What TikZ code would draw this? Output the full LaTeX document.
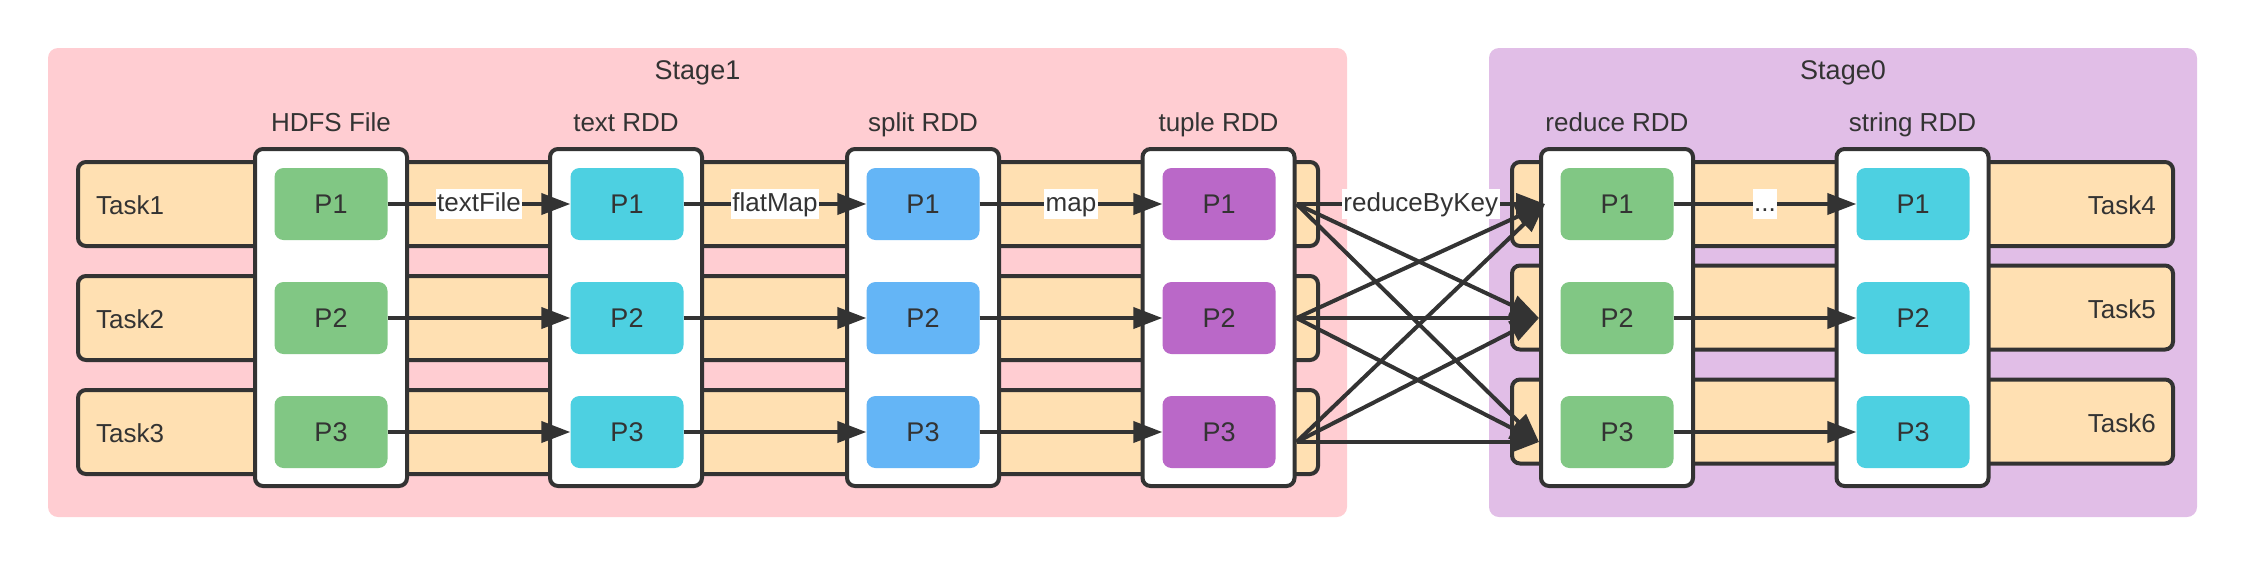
\documentclass[tikz,border=0pt]{standalone}
\usepackage{fontspec}
\setmainfont{Liberation Sans}
\usetikzlibrary{arrows.meta,calc}
\definecolor{stageA}{HTML}{FFCDD2}
\definecolor{stageB}{HTML}{E1BEE7}
\definecolor{taskc}{HTML}{FFE0B2}
\definecolor{pgreen}{HTML}{81C784}
\definecolor{pcyan}{HTML}{4DD0E1}
\definecolor{pblue}{HTML}{64B5F6}
\definecolor{ppurple}{HTML}{BA68C8}
\definecolor{ink}{HTML}{333333}
\begin{document}
\begin{tikzpicture}[x=1pt,y=-1pt,
  stagebox/.style={fill=#1, draw=none, rounded corners=10pt, inner sep=0pt},
  taskrow/.style={fill=taskc, draw=ink, line width=4pt, rounded corners=8pt, inner sep=0pt, minimum height=84pt},
  colbox/.style={fill=white, draw=ink, line width=4pt, rounded corners=8pt, inner sep=0pt, minimum width=152pt, minimum height=337pt},
  part/.style={fill=#1, draw=none, rounded corners=9pt, minimum width=113pt, minimum height=72pt, inner sep=0pt, font=\fontsize{27}{30}\selectfont, text=ink},
  lbl/.style={font=\fontsize{26}{30}\selectfont, text=ink, inner sep=0pt},
  title/.style={font=\fontsize{27}{30}\selectfont, text=ink, inner sep=0pt},
  flow/.style={draw=ink, line width=4pt, -{Triangle[length=29pt,width=21pt]}},
  elabel/.style={fill=white, font=\fontsize{26}{30}\selectfont, text=ink, inner sep=1.5pt, text height=21pt, text depth=6pt}
]
\useasboundingbox (0,0) rectangle (2246,566);
% stages
\node[stagebox=stageA, minimum width=1299pt, minimum height=469pt] (stage1) at (697.5,282.5) {};
\node[stagebox=stageB, minimum width=708pt, minimum height=469pt] (stage0) at (1843,282.5) {};
\node[title, anchor=base] (st1) at (697.5,79.5) {Stage1};
\node[title, anchor=base] (st0) at (1843,79.5) {Stage0};
% task rows
\node[taskrow, minimum width=1240pt] (row1) at (698,204) {};
\node[taskrow, minimum width=1240pt] (row2) at (698,318) {};
\node[taskrow, minimum width=1240pt] (row3) at (698,432) {};
\node[taskrow, minimum width=661pt] (row4) at (1842.5,204) {};
\node[taskrow, minimum width=661pt] (row5) at (1842.5,307.5) {};
\node[taskrow, minimum width=661pt] (row6) at (1842.5,421.5) {};
\node[lbl, anchor=west] (tk1) at (96,205) {Task1};
\node[lbl, anchor=west] (tk2) at (96,319) {Task2};
\node[lbl, anchor=west] (tk3) at (96,433) {Task3};
\node[lbl, anchor=east] (tk4) at (2156,205) {Task4};
\node[lbl, anchor=east] (tk5) at (2156,309) {Task5};
\node[lbl, anchor=east] (tk6) at (2156,423) {Task6};
% columns
\node[colbox] (hdfs) at (331,317.5) {};
\node[colbox] (text) at (626,317.5) {};
\node[colbox] (split) at (923,317.5) {};
\node[colbox] (tuple) at (1218.5,317.5) {};
\node[colbox] (reduce) at (1617,317.5) {};
\node[colbox] (string) at (1912.5,317.5) {};
\node[lbl, anchor=base] (lh) at (331,131) {HDFS File};
\node[lbl, anchor=base] (lx) at (626,131) {text RDD};
\node[lbl, anchor=base] (ls) at (923,131) {split RDD};
\node[lbl, anchor=base] (lt) at (1218.5,131) {tuple RDD};
\node[lbl, anchor=base] (lr) at (1617,131) {reduce RDD};
\node[lbl, anchor=base] (lg) at (1912.5,131) {string RDD};
% partitions
\foreach \i/\y in {1/204,2/318,3/432}{
  \node[part=pgreen] (hp\i) at (331,\y) {P\i};
  \node[part=pcyan] (xp\i) at (627,\y) {P\i};
  \node[part=pblue] (sp\i) at (923,\y) {P\i};
  \node[part=ppurple] (tp\i) at (1219,\y) {P\i};
  \node[part=pgreen] (rp\i) at (1617,\y) {P\i};
  \node[part=pcyan] (gp\i) at (1913,\y) {P\i};
}
% narrow dependencies
\draw[flow] (hp1) -- node[elabel] {textFile} (xp1);
\draw[flow] (hp2) -- (xp2);
\draw[flow] (hp3) -- (xp3);
\draw[flow] (xp1) -- node[elabel] {flatMap} (sp1);
\draw[flow] (xp2) -- (sp2);
\draw[flow] (xp3) -- (sp3);
\draw[flow] (sp1) -- node[elabel] {map} (tp1);
\draw[flow] (sp2) -- (tp2);
\draw[flow] (sp3) -- (tp3);
\draw[flow] (rp1) -- node[elabel] {...} (gp1);
\draw[flow] (rp2) -- (gp2);
\draw[flow] (rp3) -- (gp3);
% shuffle
\coordinate (s1) at (tuple.east |- tp1);
\coordinate (s2) at (tuple.east |- tp2);
\coordinate (s3) at ($(tuple.east |- tp3)+(0,10)$);
\coordinate (t1) at ($(reduce.west |- rp1)+(6,0)$);
\coordinate (t2) at (reduce.west |- rp2);
\coordinate (t3) at ($(reduce.west |- rp3)+(0,10)$);
\draw[flow] (s1) -- (t2);
\draw[flow] (s1) -- (t3);
\draw[flow] (s2) -- (t1);
\draw[flow] (s2) -- (t3);
\draw[flow] (s3) -- (t1);
\draw[flow] (s3) -- (t2);
\draw[flow] (s2) -- (t2);
\draw[flow] (s3) -- (t3);
\draw[flow] (s1) -- node[elabel] {reduceByKey} (t1);
\end{tikzpicture}
\end{document}
